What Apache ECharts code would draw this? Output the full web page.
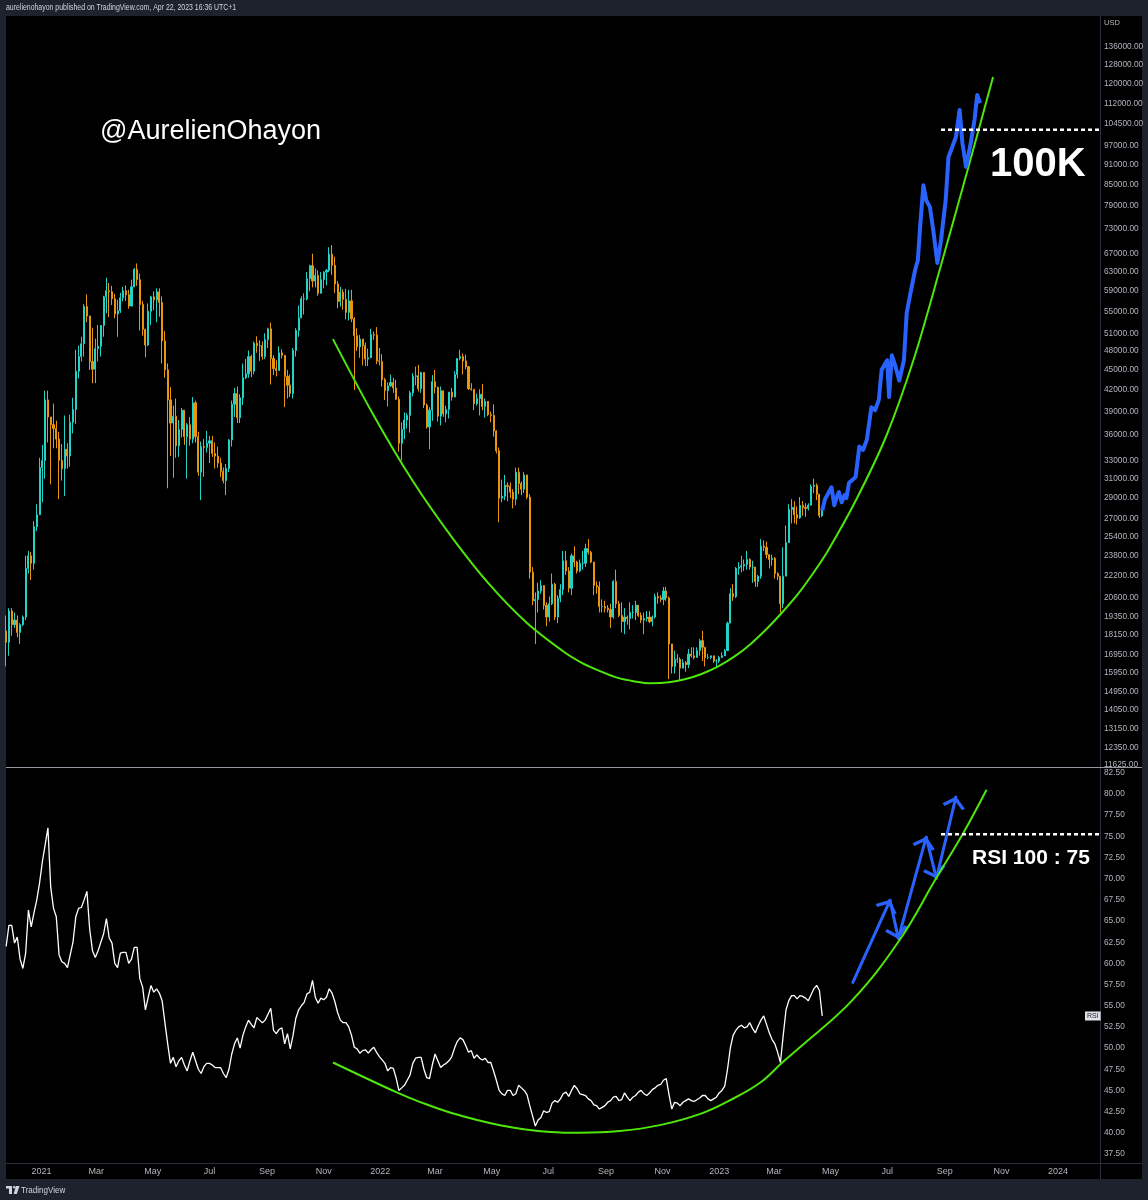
<!DOCTYPE html>
<html>
<head>
<meta charset="utf-8">
<title>BTC 100K</title>
<script src="https://cdn.jsdelivr.net/npm/echarts@6.0.0/dist/echarts.min.js"></script>
<style>
  html, body { margin: 0; padding: 0; background: #1e222d; }
  #chart { width: 1148px; height: 1200px; }
</style>
</head>
<body>
<div id="chart"></div>
<script>
// 3-day candles from startDay, open = previous close
const startDay = '2020-11-24'
const stepDays = 3
const firstOpen = 18400
const closes = [
  17700, 19700, 18800, 19100, 18300, 18800, 19300, 22800, 23800, 23200,
  26300, 27400, 32200, 33000, 40600, 38300, 37300, 36800, 35500, 33000,
  32100, 34300, 33500, 37600, 39300, 44800, 47100, 49200, 55900, 54100,
  46300, 45100, 48400, 48800, 52400, 57800, 59000, 58800, 57400, 54500,
  55100, 57600, 59000, 58200, 56000, 59800, 63500, 61300, 56300, 51700,
  49000, 55000, 57800, 57200, 58800, 56700, 49700, 45000, 40600, 37500,
  38400, 34700, 36700, 39200, 35800, 37300, 35500, 40200, 35800, 31700,
  34600, 34500, 35000, 35300, 33800, 33500, 32700, 31800, 30800, 32100,
  35400, 40000, 41500, 38200, 40900, 43800, 44400, 47100, 44800, 49300,
  48900, 48900, 47100, 49900, 51800, 46800, 45200, 44900, 47700, 47300,
  44000, 42700, 41500, 48100, 51500, 53800, 57400, 57400, 61500, 64300,
  61000, 62200, 58500, 61300, 62900, 63300, 66900, 64400, 60400, 56900,
  58700, 57300, 54800, 57000, 53600, 50600, 48700, 50000, 48900, 46700,
  46900, 50800, 50700, 46400, 46300, 43500, 41900, 42600, 43100, 42300,
  40700, 35000, 36700, 37900, 38500, 41600, 44000, 44100, 42200, 44600,
  39900, 37000, 39200, 43200, 42400, 38400, 41900, 38700, 39300, 41700,
  41000, 44300, 46800, 47100, 46400, 45500, 42200, 42100, 40100, 40800,
  41400, 39700, 40400, 38600, 38500, 36500, 34100, 29000, 29200, 30300,
  30200, 29600, 28900, 31700, 30500, 29900, 31400, 29100, 22500, 20400,
  20500, 21100, 21500, 20100, 19300, 20200, 21600, 19300, 20600, 21200,
  23400, 22600, 21300, 23800, 23300, 22600, 23200, 23200, 24400, 24100,
  23300, 21500, 21400, 20000, 20000, 19900, 19800, 19300, 21800, 20200,
  19400, 19000, 19300, 19200, 19600, 19600, 20100, 19400, 19100, 19200,
  19300, 19000, 19300, 20700, 20600, 20500, 21100, 20600, 17600, 16300,
  16700, 16700, 16200, 16500, 16400, 17000, 16900, 16800, 17200, 17800,
  17400, 16800, 16800, 16900, 16600, 16600, 16800, 16900, 17200, 18900,
  20900, 20700, 22800, 22900, 23000, 23100, 23500, 22900, 22900, 21800,
  22200, 24600, 24500, 23900, 23500, 23600, 22400, 22200, 20200, 22200,
  24900, 27900, 28100, 27400, 27100, 28300, 28100, 28000, 28300, 30200,
  30300, 29400, 27300, 27800
]
const highs = [
  19400, 19900, 19900, 19600, 19400, 18900, 19400, 23800, 24200, 24100,
  26800, 28400, 33300, 34800, 41900, 41900, 38300, 40100, 37800, 36400,
  34900, 38500, 35000, 38600, 40900, 48200, 48900, 50400, 56400, 58300,
  54200, 52000, 50100, 52500, 52400, 58000, 61700, 60600, 60000, 58400,
  57200, 58600, 59800, 60100, 59200, 61300, 63800, 64800, 62600, 57000,
  51800, 56500, 58000, 58900, 59500, 59500, 57900, 51400, 46000, 42400,
  39800, 40800, 37900, 39500, 37900, 37500, 38300, 41000, 40500, 36400,
  35200, 35500, 36500, 35900, 35900, 35100, 34600, 33300, 32200, 32600,
  35500, 40500, 42300, 42500, 41400, 46000, 46700, 48100, 47400, 49600,
  50500, 49800, 49600, 51000, 52000, 52900, 47300, 46500, 48800, 48300,
  47200, 45000, 44300, 48500, 51900, 56100, 57900, 58500, 62900, 64500,
  67000, 63700, 63300, 62900, 63100, 63600, 68500, 69000, 66300, 61000,
  59800, 59300, 59400, 59200, 59200, 53900, 51900, 50700, 49500, 49400,
  48400, 51800, 51300, 52100, 48500, 47500, 43800, 43100, 44300, 43800,
  43500, 41100, 37600, 38900, 38800, 41900, 44500, 45500, 45800, 44700,
  44200, 40100, 39600, 44200, 45000, 42500, 42500, 41300, 39800, 41700,
  42300, 44800, 46800, 48200, 47600, 47400, 45600, 43000, 41500, 41500,
  42100, 42900, 40800, 40300, 39000, 40000, 36600, 34500, 30900, 31400,
  30600, 30600, 29900, 32200, 32200, 30700, 31700, 30700, 29400, 22900,
  21000, 21700, 21900, 21500, 20300, 20700, 22400, 21700, 20800, 21600,
  24200, 24200, 22900, 24000, 24600, 23400, 23500, 24200, 24800, 25200,
  24200, 23300, 21800, 21800, 20500, 20400, 20100, 20200, 21900, 22700,
  20400, 20300, 19900, 19400, 20300, 20100, 20400, 20100, 19600, 19600,
  19700, 19700, 19400, 20900, 21000, 20800, 21400, 21400, 20700, 17600,
  17200, 17000, 16800, 16700, 16600, 17300, 17400, 17400, 17400, 17900,
  18400, 17200, 17000, 16900, 16900, 16700, 16900, 17100, 17300, 19000,
  21300, 21600, 22900, 23300, 23800, 23500, 24200, 23600, 23400, 22900,
  22300, 25200, 25100, 25000, 23800, 23900, 23700, 22500, 22100, 24500,
  26400, 28400, 28900, 28700, 28200, 29100, 28700, 28500, 28500, 30400,
  31000, 30500, 29300, 27900
]
const lows = [
  16300, 16900, 18100, 18600, 18000, 17600, 18700, 19100, 22400, 21900,
  22700, 25900, 27900, 28600, 31000, 35100, 30400, 34400, 34400, 28900,
  30800, 29200, 32100, 32300, 36200, 37400, 43700, 46300, 47100, 53000,
  45000, 43000, 43000, 46300, 47100, 50400, 54600, 53900, 56200, 53700,
  50400, 54700, 56900, 57000, 55500, 57600, 59800, 60000, 51500, 50600,
  47000, 48800, 52500, 55200, 53000, 54000, 46000, 43800, 30000, 33500,
  31100, 33300, 33400, 35700, 34800, 31000, 34700, 35000, 35100, 31300,
  28800, 31200, 33900, 32700, 33400, 32100, 32200, 31200, 30500, 29300,
  31700, 34600, 38300, 37500, 37500, 39900, 43600, 43800, 43900, 44300,
  47700, 46400, 46600, 46700, 48500, 42800, 44200, 44000, 45600, 46800,
  39600, 40800, 41000, 40800, 47100, 50400, 53700, 54400, 57100, 58900,
  59700, 59700, 58000, 59600, 59500, 60100, 62900, 62300, 58600, 55600,
  55900, 55300, 53500, 53300, 53000, 42000, 48000, 46900, 45700, 45600,
  45600, 48800, 49900, 45900, 45700, 42500, 40600, 39700, 42500, 41600,
  40600, 34000, 33000, 35500, 36800, 36300, 41100, 42700, 41800, 41600,
  39500, 36800, 34300, 37800, 41500, 37700, 37200, 38300, 37600, 38100,
  40500, 41000, 43700, 46500, 44300, 45100, 42000, 41900, 39200, 39800,
  38500, 39200, 38200, 38400, 37600, 35800, 33800, 26700, 28600, 28800,
  28700, 29000, 28000, 28300, 29400, 29300, 29500, 28900, 22000, 20100,
  17600, 19600, 20900, 19800, 18700, 19000, 20100, 19100, 18900, 20300,
  20800, 22300, 21000, 20800, 22900, 22400, 22500, 22700, 22900, 23900,
  23200, 20800, 20900, 19600, 19600, 19600, 19600, 18600, 19200, 19900,
  19300, 18300, 18200, 18800, 18500, 19200, 19100, 19300, 18900, 18200,
  19000, 18900, 18700, 19200, 20200, 20300, 20100, 20400, 15600, 15900,
  15900, 16500, 15500, 16300, 16000, 16200, 16800, 16700, 16900, 16900,
  16600, 16300, 16700, 16700, 16500, 16300, 16500, 16800, 16900, 17200,
  18900, 20400, 20600, 22300, 22500, 22600, 22700, 22700, 21700, 21400,
  21400, 22000, 24200, 23600, 22800, 23000, 22000, 21900, 19600, 19900,
  23900, 25100, 26600, 26600, 26500, 27000, 27300, 27200, 27800, 28300,
  29500, 28800, 27100, 27200
]
// RSI, same 3-day steps as the candles
const rsi = [
  62, 64.5, 64.5, 62.4, 63.1, 60.5, 59.4, 61.2, 66.3, 64.3,
  66, 67.5, 69.5, 72, 74, 76, 69, 66.5, 65.5, 61,
  60.2, 60, 59.5, 61, 62.5, 65.5, 66.5, 66.6, 67.5, 68.5,
  64, 61.5, 60.7, 61.5, 62.5, 63.5, 65.3, 63, 62.4, 60,
  59.5, 61.2, 61.3, 61.3, 60, 60.5, 61.9, 61.9, 58.2, 57.2,
  54.5, 56, 57.4, 56.6, 57, 56.5, 55.6, 53, 50.5, 48.2,
  48.9, 47.8, 48.5, 48.9, 48, 47.3, 48.5, 49.5, 48.5, 47.5,
  47, 47.8, 48.2, 48.2, 48, 47.7, 47.7, 47.7, 47, 46.5,
  47.5, 49.3, 50.5, 51.2, 50, 51.5, 52.5, 53.3, 52.8, 52.4,
  53.6, 53.3, 53, 53.3, 54, 54.7, 52.1, 51.7, 52.2, 52.4,
  50.5, 51.7, 49.9, 51.5, 53.5, 54.5, 55, 55.4, 56.4, 56.6,
  58, 56, 55.3, 55.9, 55.7, 56, 57, 56.5, 55.5, 54.2,
  53.3, 53, 53, 52.5, 51.5, 50.1, 49.9, 49.4, 49.7, 49.8,
  49.4, 49.8, 50.1, 49.5, 49, 48.6, 48.2, 47.3, 47.7, 47.6,
  46.5, 45, 45.3, 45.6, 46.2, 46.8, 48.2, 48.8, 48.9, 48.9,
  47.5, 46.5, 46.4, 48, 49.3, 48.5, 47.7, 48, 48.2, 48.5,
  49, 50, 50.8, 51.2, 51, 50.3, 49.5, 49.7, 48.8, 49.2,
  48.8, 48.6, 48.8, 48.3, 48.3, 47.3, 46.2, 45, 44.6, 44.4,
  45, 45, 44.4, 44.6, 45.6, 45.3, 45, 44.5, 43.2, 42,
  40.8, 41.5, 41.8, 42.6, 42.4, 42.5, 43.5, 43.8, 43.6, 44,
  44.6, 44.8, 44.3, 45, 45.6, 45.2, 44.6, 44.5, 44.4, 44,
  43.8, 43.3, 43.2, 42.8, 43, 43.2, 43.6, 43.8, 44.2, 44.3,
  43.8, 43.9, 44.7, 44.2, 43.8, 44.2, 44.4, 44.8, 45, 44.6,
  44.4, 44.7, 45.1, 45.3, 45.6, 45.7, 46.2, 46.4, 44.5, 42.8,
  43.6, 43.5, 43.2, 43.6, 43.8, 44, 43.8, 43.7, 43.9, 44.1,
  44.4, 44.4, 44, 43.8, 44, 44.2, 44.7, 45, 45.5, 47.5,
  50, 51.5, 52.1, 52.5, 52.7, 52.4, 52.5, 53, 52.3, 51.8,
  52.6, 53.3, 53.8, 52.8, 51.8, 51, 50.5, 49.5, 48.3, 51.5,
  54.5, 55.6, 56.2, 56.2, 55.8, 56.2, 56.1, 55.9, 55.6, 56.3,
  57, 57.4, 56.8, 53.8
]

// blue projection after the last candle
const projDates = [
  '2023-04-22', '2023-04-25', '2023-04-28', '2023-05-02', '2023-05-05', '2023-05-08',
  '2023-05-10', '2023-05-13', '2023-05-16', '2023-05-18', '2023-05-21', '2023-05-25',
  '2023-05-28', '2023-06-01', '2023-06-05', '2023-06-09', '2023-06-14', '2023-06-18',
  '2023-06-22', '2023-06-25', '2023-07-01', '2023-07-03', '2023-07-06', '2023-07-10',
  '2023-07-14', '2023-07-19', '2023-07-22', '2023-07-26', '2023-07-31', '2023-08-03',
  '2023-08-06', '2023-08-09', '2023-08-12', '2023-08-16', '2023-08-20', '2023-08-24',
  '2023-08-28', '2023-09-02', '2023-09-05', '2023-09-09', '2023-09-13', '2023-09-17',
  '2023-09-20', '2023-09-24', '2023-09-29', '2023-10-03', '2023-10-06', '2023-10-09'
]
const projValues = [
  27800, 28900, 29400, 30100, 28300, 29200, 29600, 28600, 29300, 29000,
  30600, 30900, 31200, 34600, 34200, 35400, 39600, 39200, 40600, 45000,
  46500, 41000, 47300, 45500, 43400, 46500, 54700, 58500, 63300, 65500,
  75200, 84700, 80500, 78600, 71900, 64900, 70200, 80500, 93300, 96500,
  99900, 109600, 97900, 90200, 97900, 105900, 115400, 112200
]

// green curve, price pane
const curveDates = [
  '2021-11-11', '2021-12-24', '2022-02-05', '2022-03-19', '2022-04-29', '2022-06-08',
  '2022-07-18', '2022-08-06', '2022-08-25', '2022-09-13', '2022-10-02', '2022-10-20',
  '2022-11-08', '2022-11-25', '2022-12-13', '2022-12-31', '2023-01-18', '2023-02-04',
  '2023-02-21', '2023-03-10', '2023-03-27', '2023-04-12', '2023-04-28', '2023-05-29',
  '2023-06-30', '2023-07-30', '2023-08-28', '2023-09-25', '2023-10-23'
]
const curveValues = [
  50000, 38690, 30750, 25380, 21540, 18910,
  17120, 16500, 16050, 15680, 15480, 15380,
  15430, 15590, 15880, 16300, 16880, 17600,
  18520, 19620, 20890, 22400, 24200, 28920,
  35880, 46870, 64450, 88630, 122700
]

// green curve, RSI pane
const rsiCurveDates = [
  '2021-11-11', '2022-01-20', '2022-02-09', '2022-03-17', '2022-05-10', '2022-07-03',
  '2022-08-04', '2022-09-16', '2022-10-29', '2022-12-11', '2023-01-12', '2023-02-14',
  '2023-03-10', '2023-03-29', '2023-05-24', '2023-07-14', '2023-08-23', '2023-09-21',
  '2023-10-16'
]
const rsiCurveValues = [
  48.3, 44.7, 43.8, 42.4, 40.9, 40.1, 40.0, 40.2, 40.9, 42.2,
  43.8, 45.9, 48.3, 50.1, 55.6, 62.7, 70.1, 75.4, 80.5
]

// blue arrows, RSI pane: from date, from value, to date, to value
const arrows = [
  ['2023-05-25', 57.75, '2023-07-04', 67.45],
  ['2023-07-04', 67.45, '2023-07-13', 62.95],
  ['2023-07-13', 62.95, '2023-08-12', 74.9],
  ['2023-08-12', 74.9, '2023-08-23', 70.05],
  ['2023-08-23', 70.05, '2023-09-13', 79.65]
]

// dotted target levels
const levelFrom = '2023-08-28'
const priceLevel = 102400
const rsiLevel = 75.25

// axis labels
const priceTicks = [
  11625, 12350, 13150, 14050, 14950, 15950, 16950, 18150, 19350, 20600, 22200,
  23800, 25400, 27000, 29000, 31000, 33000, 36000, 39000, 42000, 45000, 48000,
  51000, 55000, 59000, 63000, 67000, 73000, 79000, 85000, 91000, 97000, 104500,
  112000, 120000, 128000, 136000
]
const rsiTicks = [
  37.5, 40, 42.5, 45, 47.5, 50, 52.5, 55, 57.5, 60, 62.5, 65, 67.5, 70,
  72.5, 75, 77.5, 80, 82.5
]
const timeTicks = [
  '2021-01-01', '2021-03-01', '2021-05-01', '2021-07-01', '2021-09-01', '2021-11-01',
  '2022-01-01', '2022-03-01', '2022-05-01', '2022-07-01', '2022-09-01', '2022-11-01',
  '2023-01-01', '2023-03-01', '2023-05-01', '2023-07-01', '2023-09-01', '2023-11-01',
  '2024-01-01'
]
const monthNames = ['Jan', 'Feb', 'Mar', 'Apr', 'May', 'Jun', 'Jul', 'Aug', 'Sep', 'Oct', 'Nov', 'Dec']

const DAY = 86400000
const t = s => echarts.time.parse(s).getTime()
const xMin = t('2020-11-23 20:00')
const xMax = t('2024-02-15 05:00')
const priceMin = 11546
const priceMax = 151240
const rsiMin = 36.43
const rsiMax = 83.19

const upColor = '#22d3c8'
const downColor = '#e8950f'
const blue = '#2962ff'
const green = '#4fe60a'
const labelColor = '#b2b5be'
const labelFont = '"Liberation Sans", Arial, sans-serif'

const t0 = t(startDay)
const candleData = closes.map((c, i) => {
  const o = i === 0 ? firstOpen : closes[i - 1]
  const h = Math.max(highs[i], o, c)
  const l = Math.min(lows[i], o, c)
  return [t0 + i * stepDays * DAY, Math.log(o), Math.log(c), Math.log(l), Math.log(h)]
})
const rsiData = rsi.map((v, i) => [t0 + i * stepDays * DAY, v])
const projData = projDates.map((d, i) => [t(d), Math.log(projValues[i])])
const curveData = curveDates.map((d, i) => [t(d), Math.log(curveValues[i])])
const rsiCurveData = rsiCurveDates.map((d, i) => [t(d), rsiCurveValues[i]])
const arrowData = arrows.map(a => ({ coords: [[t(a[0]), a[1]], [t(a[2]), a[3]]] }))

// open chevron, tip in the middle of its box so it sits on the line end
const arrowHead = 'path://M10,0.5 L10.3,0.5 L10.15,0.8 Z M1.5,18.5 L10,10 L18.5,18.5 L16.6,20.4 L10,13.8 L3.4,20.4 Z'

const chart = echarts.init(document.getElementById('chart'))
chart.setOption({
  backgroundColor: '#000000',
  animation: false,
  grid: [
    { left: 6, right: 48, top: 16, height: 751 },
    { left: 6, right: 48, top: 767, height: 396 }
  ],
  xAxis: [
    { type: 'value', gridIndex: 0, min: xMin, max: xMax, show: false },
    {
      type: 'value',
      gridIndex: 1,
      min: xMin,
      max: xMax,
      axisLine: { show: false },
      axisTick: { show: false },
      splitLine: { show: false },
      axisLabel: {
        customValues: timeTicks.map(t),
        hideOverlap: false,
        color: labelColor,
        fontSize: 9,
        fontFamily: labelFont,
        margin: 4,
        formatter: v => {
          const d = new Date(v)
          return d.getMonth() === 0 ? String(d.getFullYear()) : monthNames[d.getMonth()]
        }
      }
    }
  ],
  yAxis: [
    {
      type: 'value',
      gridIndex: 0,
      position: 'right',
      min: Math.log(priceMin),
      max: Math.log(priceMax),
      axisLine: { show: false },
      axisTick: { show: false },
      splitLine: { show: false },
      axisLabel: {
        customValues: priceTicks.map(p => Math.log(p)),
        hideOverlap: false,
        color: labelColor,
        fontSize: 8.3,
        fontFamily: labelFont,
        margin: 4,
        formatter: v => Math.round(Math.exp(v)).toFixed(2)
      }
    },
    {
      type: 'value',
      gridIndex: 1,
      position: 'right',
      min: rsiMin,
      max: rsiMax,
      axisLine: { show: false },
      axisTick: { show: false },
      splitLine: { show: false },
      axisLabel: {
        customValues: rsiTicks,
        hideOverlap: false,
        color: labelColor,
        fontSize: 8.3,
        fontFamily: labelFont,
        margin: 4,
        formatter: v => v.toFixed(2)
      }
    }
  ],
  series: [
    {
      type: 'candlestick',
      xAxisIndex: 0,
      yAxisIndex: 0,
      barWidth: 1.6,
      data: candleData,
      itemStyle: {
        color: upColor,
        color0: downColor,
        borderColor: upColor,
        borderColor0: downColor,
        borderWidth: 1
      }
    },
    {
      type: 'line',
      xAxisIndex: 0,
      yAxisIndex: 0,
      data: curveData,
      smooth: 0.3,
      showSymbol: false,
      lineStyle: { color: green, width: 2 }
    },
    {
      type: 'line',
      xAxisIndex: 0,
      yAxisIndex: 0,
      data: projData,
      showSymbol: false,
      lineStyle: { color: blue, width: 4, join: 'round' }
    },
    {
      type: 'line',
      xAxisIndex: 0,
      yAxisIndex: 0,
      data: [[t(levelFrom), Math.log(priceLevel)], [xMax, Math.log(priceLevel)]],
      showSymbol: false,
      lineStyle: { color: '#ffffff', width: 2.5, type: [4, 3] }
    },
    {
      type: 'line',
      xAxisIndex: 1,
      yAxisIndex: 1,
      data: rsiData,
      showSymbol: false,
      lineStyle: { color: '#ffffff', width: 1.3 }
    },
    {
      type: 'line',
      xAxisIndex: 1,
      yAxisIndex: 1,
      data: rsiCurveData,
      smooth: 0.4,
      showSymbol: false,
      lineStyle: { color: green, width: 2 }
    },
    {
      type: 'line',
      xAxisIndex: 1,
      yAxisIndex: 1,
      data: [[t(levelFrom), rsiLevel], [xMax, rsiLevel]],
      showSymbol: false,
      lineStyle: { color: '#ffffff', width: 2.5, type: [4, 3] }
    },
    {
      type: 'lines',
      coordinateSystem: 'cartesian2d',
      xAxisIndex: 1,
      yAxisIndex: 1,
      data: arrowData,
      symbol: ['none', arrowHead],
      symbolSize: [20, 23],
      lineStyle: { color: blue, width: 3, opacity: 1, cap: 'round' }
    }
  ],
  graphic: [
    // frame around the chart
    { type: 'rect', shape: { x: 0, y: 0, width: 1148, height: 16 }, style: { fill: '#1e222d' } },
    { type: 'rect', shape: { x: 0, y: 0, width: 6, height: 1200 }, style: { fill: '#1e222d' } },
    { type: 'rect', shape: { x: 1142, y: 0, width: 6, height: 1200 }, style: { fill: '#1e222d' } },
    { type: 'rect', shape: { x: 0, y: 1179, width: 1148, height: 21 }, style: { fill: '#1e222d' } },
    { type: 'line', shape: { x1: 1100.5, y1: 16, x2: 1100.5, y2: 1179 }, style: { stroke: '#2a2e39', lineWidth: 1 } },
    { type: 'line', shape: { x1: 6, y1: 1163.5, x2: 1142, y2: 1163.5 }, style: { stroke: '#2a2e39', lineWidth: 1 } },
    { type: 'line', shape: { x1: 6, y1: 767.5, x2: 1142, y2: 767.5 }, style: { stroke: '#9598a1', lineWidth: 1 } },
    {
      type: 'text', x: 6, y: 8, z: 100, scaleX: 0.77,
      style: { text: 'aurelienohayon published on TradingView.com, Apr 22, 2023 16:36 UTC+1', fill: '#d1d4dc', font: '9px ' + labelFont, verticalAlign: 'middle' }
    },
    {
      type: 'text', x: 1104, y: 23, z: 100,
      style: { text: 'USD', fill: labelColor, font: '7.5px ' + labelFont, verticalAlign: 'middle' }
    },
    {
      type: 'text', x: 100, y: 132, z: 100,
      style: { text: '@AurelienOhayon', fill: '#ffffff', font: '27px "Liberation Sans", Arial, sans-serif', verticalAlign: 'middle' }
    },
    {
      type: 'text', x: 990, y: 165, z: 100,
      style: { text: '100K', fill: '#ffffff', font: 'bold 40px "Liberation Sans", Arial, sans-serif', verticalAlign: 'middle' }
    },
    {
      type: 'text', x: 972, y: 858, z: 100,
      style: { text: 'RSI 100 : 75', fill: '#ffffff', font: 'bold 21px "Liberation Sans", Arial, sans-serif', verticalAlign: 'middle' }
    },
    {
      type: 'text', x: 1085, y: 1016, z: 100,
      style: { text: 'RSI', fill: '#131722', font: '7px ' + labelFont, verticalAlign: 'middle', backgroundColor: '#e0e3eb', padding: [1, 2] }
    },
    // TradingView logo and name
    { type: 'rect', z: 100, shape: { x: 6, y: 1186, width: 6, height: 2.5 }, style: { fill: '#d1d4dc' } },
    { type: 'rect', z: 100, shape: { x: 9, y: 1186, width: 3, height: 8 }, style: { fill: '#d1d4dc' } },
    { type: 'circle', z: 100, shape: { cx: 14.3, cy: 1187.3, r: 1.3 }, style: { fill: '#d1d4dc' } },
    { type: 'polygon', z: 100, shape: { points: [[16, 1186], [19.5, 1186], [16.8, 1194], [13.6, 1194]] }, style: { fill: '#d1d4dc' } },
    {
      type: 'text', x: 21, y: 1190, z: 100, scaleX: 0.85,
      style: { text: 'TradingView', fill: '#d1d4dc', font: '9.5px "Liberation Sans", Arial, sans-serif', verticalAlign: 'middle' }
    }
  ]
})
</script>
</body>
</html>
